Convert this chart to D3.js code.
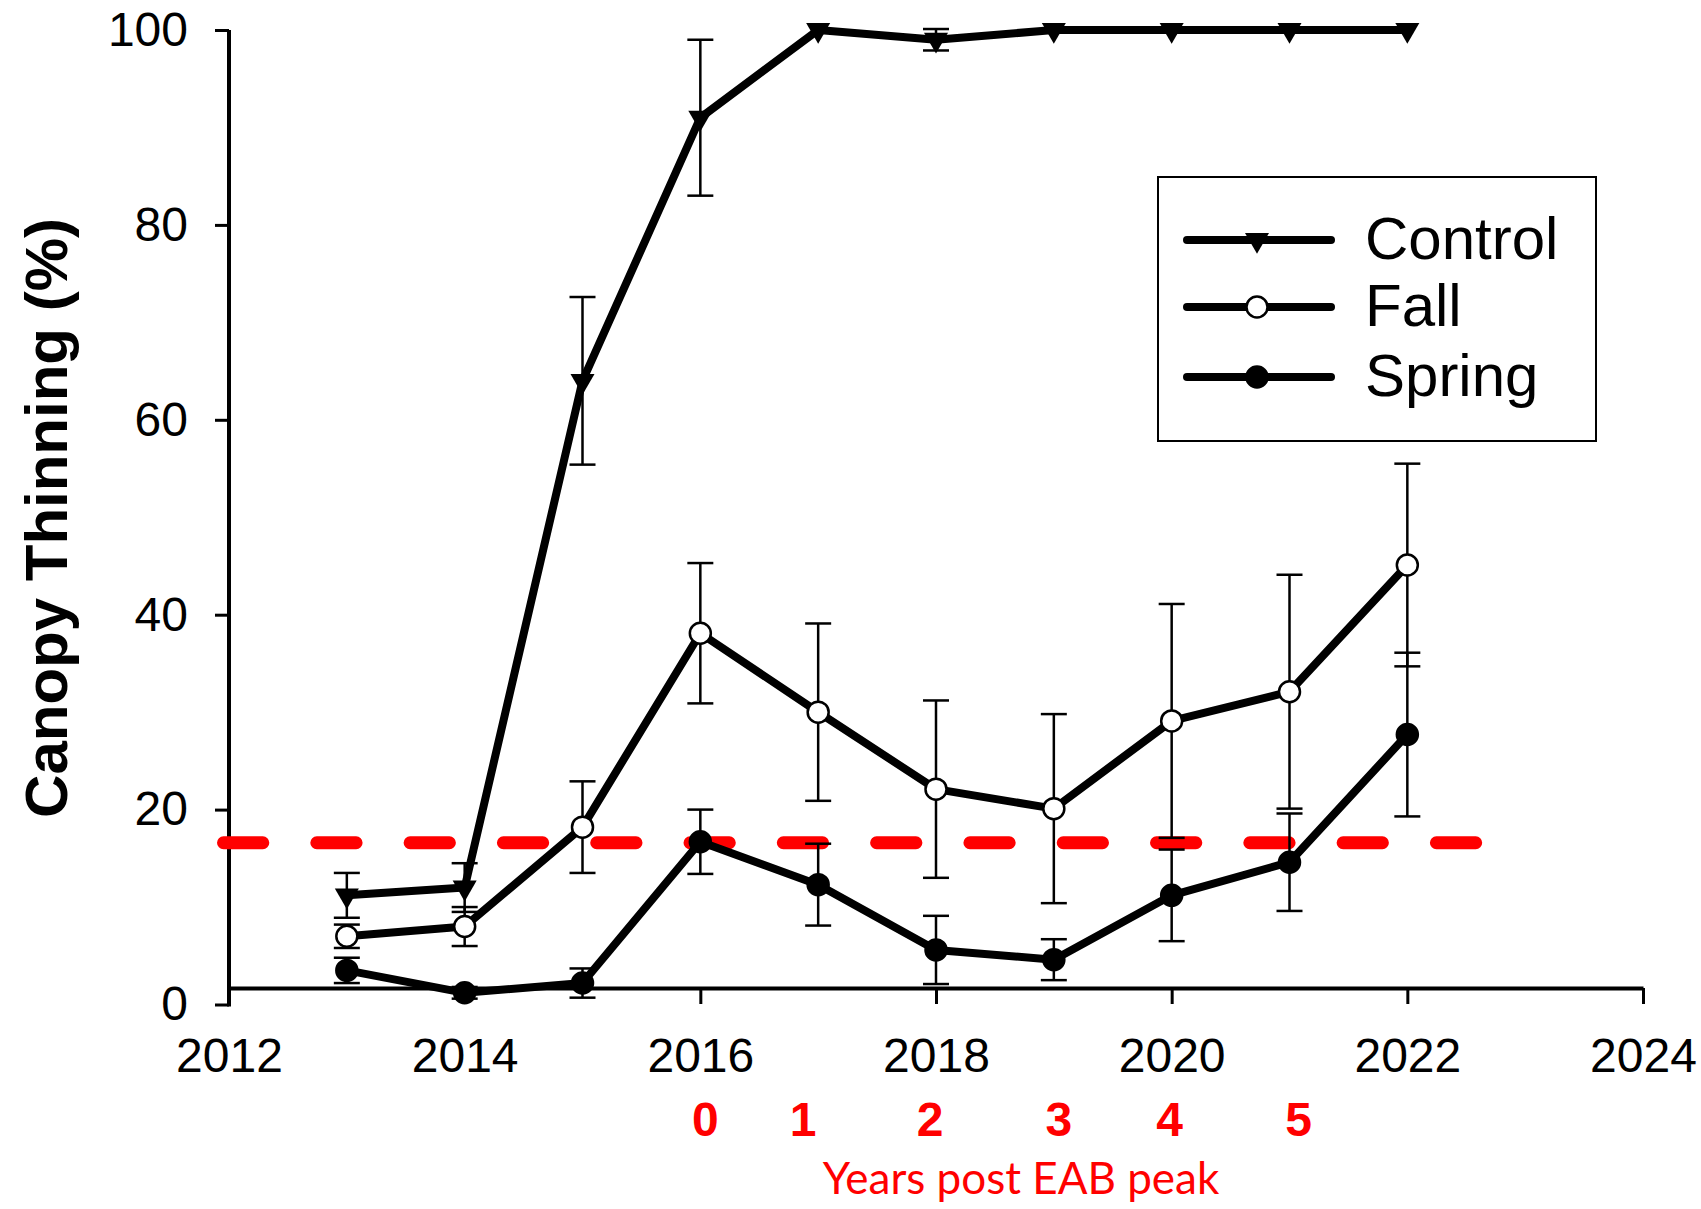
<!DOCTYPE html>
<html>
<head>
<meta charset="utf-8">
<script src="https://cdn.jsdelivr.net/npm/d3@7"></script>
<style>
  html, body { margin: 0; padding: 0; background: #fff; }
  svg { display: block; }
</style>
</head>
<body>
<svg id="chart" width="1701" height="1209"></svg>
<script>
// Survey years
const years = [2013, 2014, 2015, 2016, 2017, 2018, 2019, 2020, 2021, 2022];

// Mean canopy thinning (%) and standard error per treatment
const controlMean = [11.2, 12.0, 64.0, 91.0, 100, 99.0, 100, 100, 100, 100];
const controlSE   = [2.3, 2.5, 8.6, 8.0, 0, 1.1, 0, 0, 0, 0];
const fallMean    = [7.0, 8.0, 18.2, 38.1, 30.0, 22.1, 20.1, 29.1, 32.1, 45.1];
const fallSE      = [1.2, 2.0, 4.7, 7.2, 9.1, 9.1, 9.7, 12.0, 12.0, 10.4];
const springMean  = [3.5, 1.2, 2.2, 16.7, 12.3, 5.6, 4.6, 11.2, 14.6, 27.7];
const springSE    = [1.3, 0.6, 1.5, 3.3, 4.2, 3.5, 2.1, 4.7, 5.0, 8.4];

// Reference threshold (dashed red line)
const threshold = 16.6;
const thresholdSpan = [2012, 2022.7];

// Axis ticks
const xTicks = [2012, 2014, 2016, 2018, 2020, 2022, 2024];
const yTicks = [0, 20, 40, 60, 80, 100];

// Years after the EAB peak, labelled under the axis
const peakYears  = [2016, 2017, 2018, 2019, 2020, 2021];
const peakLabels = ["0", "1", "2", "3", "4", "5"];

const seriesNames = ["Control", "Fall", "Spring"];

const svg = d3.select("#chart");
const FONT = "'Liberation Sans', Arial, sans-serif";

const x = d3.scaleLinear().domain([2012, 2024]).range([229, 1643]);
const y = d3.scaleLinear().domain([0, 100]).range([1004.5, 30]);
const xAxisY = y(0) - 16.5;   // x axis sits slightly above zero

const series = [
  { name: seriesNames[0], mean: controlMean, se: controlSE, marker: "triangle" },
  { name: seriesNames[1], mean: fallMean,    se: fallSE,    marker: "open" },
  { name: seriesNames[2], mean: springMean,  se: springSE,  marker: "filled" }
];

// ---- axes ----
const yAxis = svg.append("g")
  .attr("transform", `translate(${x(2012)},0)`)
  .call(d3.axisLeft(y).tickValues(yTicks).tickSize(14).tickSizeOuter(0).tickPadding(27));
yAxis.select(".domain").attr("stroke", "#000").attr("stroke-width", 4)
  .attr("d", `M0,${y(100)}V${y(0) + 2}`);
yAxis.selectAll(".tick line").attr("stroke", "#000").attr("stroke-width", 3);
yAxis.selectAll(".tick text").attr("font-family", FONT).attr("font-size", 48).attr("fill", "#000");

const xAxis = svg.append("g")
  .attr("transform", `translate(0,${xAxisY})`)
  .call(d3.axisBottom(x).tickValues(xTicks).tickFormat(d3.format("d"))
    .tickSize(16).tickSizeOuter(0).tickPadding(34));
xAxis.select(".domain").attr("stroke", "#000").attr("stroke-width", 4);
xAxis.selectAll(".tick line").attr("stroke", "#000").attr("stroke-width", 3);
xAxis.selectAll(".tick text").attr("font-family", FONT).attr("font-size", 48).attr("fill", "#000");

// y axis title
svg.append("text")
  .attr("transform", `translate(67,518) rotate(-90)`)
  .attr("text-anchor", "middle")
  .attr("font-family", FONT).attr("font-weight", "bold").attr("font-size", 60)
  .attr("fill", "#000")
  .text("Canopy Thinning (%)");

// ---- threshold line ----
svg.append("line")
  .attr("x1", x(thresholdSpan[0]) - 5.5).attr("x2", x(thresholdSpan[1]))
  .attr("y1", y(threshold)).attr("y2", y(threshold))
  .attr("stroke", "#ff0000").attr("stroke-width", 13)
  .attr("stroke-linecap", "round")
  .attr("stroke-dasharray", "39.3 54");

// ---- data ----
const plot = svg.append("g");
const capHalf = 13;

series.forEach(s => {
  const pts = years.map((yr, i) => ({ yr, m: s.mean[i], e: s.se[i] }));
  const eb = plot.append("g");
  pts.filter(p => p.e > 0).forEach(p => {
    const cx = x(p.yr), top = y(p.m + p.e), bot = y(p.m - p.e);
    eb.append("line").attr("x1", cx).attr("x2", cx).attr("y1", top).attr("y2", bot)
      .attr("stroke", "#000").attr("stroke-width", 2.5);
    [top, bot].forEach(v => eb.append("line")
      .attr("x1", cx - capHalf).attr("x2", cx + capHalf).attr("y1", v).attr("y2", v)
      .attr("stroke", "#000").attr("stroke-width", 2.5));
  });
});

function drawMarker(g, kind, cx, cy) {
  if (kind === "triangle") {
    g.append("path")
      .attr("d", d3.symbol(d3.symbolTriangle, 250)())
      .attr("transform", `translate(${cx},${cy}) rotate(180)`)
      .attr("fill", "#000");
  } else {
    g.append("circle").attr("cx", cx).attr("cy", cy).attr("r", 10.5)
      .attr("fill", kind === "open" ? "#fff" : "#000")
      .attr("stroke", "#000").attr("stroke-width", 2.5);
  }
}

const line = d3.line().x(d => x(d.yr)).y(d => y(d.m));
series.forEach(s => {
  const pts = years.map((yr, i) => ({ yr, m: s.mean[i] }));
  plot.append("path").datum(pts).attr("d", line)
    .attr("fill", "none").attr("stroke", "#000").attr("stroke-width", 8)
    .attr("stroke-linejoin", "round");
});
series.forEach(s => {
  const g = plot.append("g");
  years.forEach((yr, i) => drawMarker(g, s.marker, x(yr), y(s.mean[i])));
});

// ---- legend ----
const legend = svg.append("g");
legend.append("rect").attr("x", 1158).attr("y", 177).attr("width", 438).attr("height", 264)
  .attr("fill", "#fff").attr("stroke", "#000").attr("stroke-width", 2);
const rowY = [240, 307, 377];
series.forEach((s, i) => {
  legend.append("line").attr("x1", 1187).attr("x2", 1331).attr("y1", rowY[i]).attr("y2", rowY[i])
    .attr("stroke", "#000").attr("stroke-width", 8).attr("stroke-linecap", "round");
  drawMarker(legend, s.marker, 1257, rowY[i]);
  legend.append("text").attr("x", 1365).attr("y", rowY[i] + 19)
    .attr("font-family", FONT).attr("font-size", 60).attr("fill", "#000")
    .text(s.name);
});

// ---- years post EAB peak ----
// small hand nudges so the digits sit where they were typed on the figure
const peakNudge = [5, -15, -6, 5, -2, 9];
svg.append("g").selectAll("text").data(peakYears).join("text")
  .attr("x", (d, i) => x(d) + peakNudge[i]).attr("y", 1136)
  .attr("text-anchor", "middle")
  .attr("font-family", FONT).attr("font-weight", "bold").attr("font-size", 48)
  .attr("fill", "#ff0000")
  .text((d, i) => peakLabels[i]);

svg.append("text")
  .attr("x", 1021).attr("y", 1194)
  .attr("text-anchor", "middle")
  .attr("font-family", "Lato, 'Open Sans', sans-serif").attr("font-size", 44)
  .attr("fill", "#ff0000")
  .text("Years post EAB peak");
</script>
</body>
</html>
